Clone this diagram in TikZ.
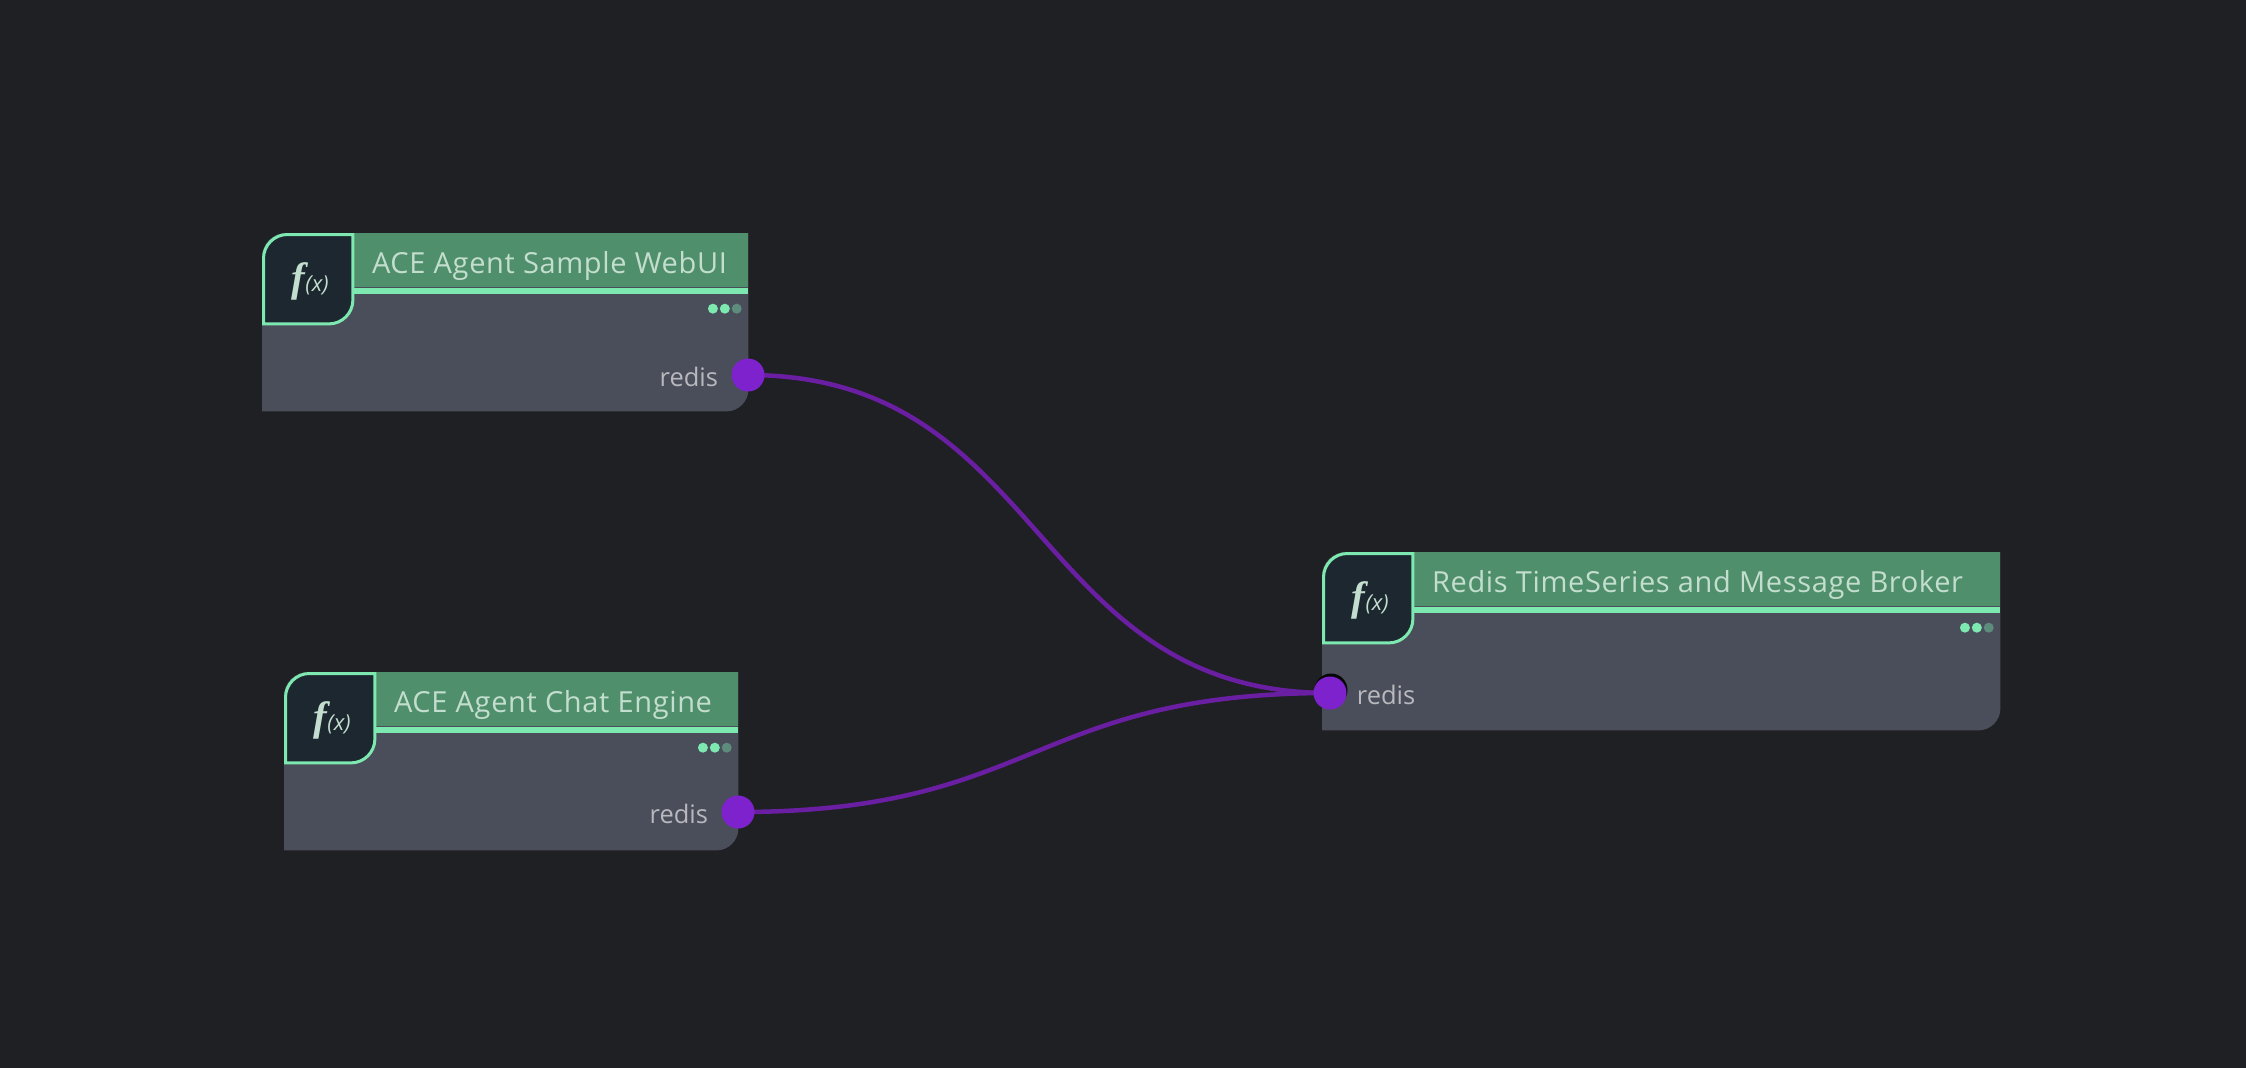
\documentclass[tikz,border=0pt]{standalone}
\usepackage{fontspec}
\setmainfont{Open Sans}
\newfontfamily\titlefont{Open Sans}[LetterSpace=2.2]
\newfontfamily\fxfont{Liberation Serif}
\usetikzlibrary{positioning}

\definecolor{canvas}{HTML}{1F2023}
\definecolor{cardgray}{HTML}{4A4E5A}
\definecolor{bandgreen}{HTML}{4F8F6B}
\definecolor{accent}{HTML}{7DE8B0}
\definecolor{icondark}{HTML}{1C2730}
\definecolor{titletext}{HTML}{C3DECE}
\definecolor{porttext}{HTML}{B8B8BE}
\definecolor{wire}{HTML}{6A1FA3}
\definecolor{portfill}{HTML}{7E22CE}

\tikzset{
  card/.style={anchor=north west,inner sep=0,minimum height=178pt},
  band/.style={anchor=north east,inner sep=0,fill=bandgreen,minimum height=54pt},
  bar/.style={inner sep=0,fill=accent,minimum height=6pt},
  iconbox/.style={anchor=north west,inner sep=0,minimum size=89pt},
  fxlabel/.style={text=titletext},
  title/.style={anchor=base west,inner sep=0,text=titletext,font=\titlefont\fontsize{29}{33}\selectfont},
  portlabel/.style={inner sep=0,text=porttext,font=\fontsize{25.5}{30}\selectfont},
  port/.style={circle,inner sep=0,fill=portfill,minimum size=33pt},
  dot/.style={circle,inner sep=0,fill=accent,minimum size=10pt},
  dimdot/.style={dot,fill=accent!40!cardgray},
  link/.style={wire,line width=4.5pt}
}

\begin{document}
\begin{tikzpicture}[x=1pt,y=-1pt]
  \fill[canvas] (0,0) rectangle (2246,1068);

  \foreach \n/\x/\y/\w/\lbl in {webui/262/233/486/ACE Agent Sample WebUI,
                                engine/284/672/454/ACE Agent Chat Engine,
                                broker/1322/552/678/Redis TimeSeries and Message Broker} {
    \node[card,minimum width=\w pt] (\n) at (\x,\y) {};
    \fill[cardgray] (\n.south west) [rounded corners=24pt] -- (\n.north west)
      [sharp corners] -- (\n.north east) [rounded corners=22pt] -- (\n.south east)
      [sharp corners] -- (\n.south west) -- cycle;
    \node[band,minimum width=\w pt-92pt] (\n band) at (\n.north east) {};
    \node[bar,below=0pt of \n band,minimum width=\w pt-92pt] (\n bar) {};
    \node[iconbox] (\n icon) at ([shift={(1.5pt,-1.5pt)}]\n.north west) {};
    \filldraw[fill=icondark,draw=accent,line width=3pt]
      (\n icon.south west) [rounded corners=24pt] -- (\n icon.north west)
      [sharp corners] -- (\n icon.north east) [rounded corners=24pt] -- (\n icon.south east)
      [sharp corners] -- (\n icon.south west) -- cycle;
    \node[fxlabel,xshift=2pt,yshift=-2pt] (\n fx) at (\n icon.center)
      {{\fxfont\bfseries\itshape\fontsize{41}{41}\selectfont f}{\itshape\fontsize{22}{22}\selectfont (x)}};
    \node[title,right=19pt of \n icon.north east,yshift=-38.5pt,anchor=base west] (\n title) {\lbl};
    \node[dimdot,below left=72pt and 8pt of \n.north east] (\n dotc) {};
    \node[dot,left=1.5pt of \n dotc] (\n dotb) {};
    \node[dot,left=1.5pt of \n dotb] (\n dota) {};
  }

  \coordinate (webuiout) at (748,375);
  \coordinate (engineout) at (738,812);
  \coordinate (brokerin) at (1330,693);

  \draw[link] (webuiout) .. controls +(300,0) and +(-300,0) .. (brokerin);
  \draw[link] (engineout) .. controls +(300,0) and +(-300,0) .. (brokerin);

  \node[port] (webuiport) at (webuiout) {};
  \node[port] (engineport) at (engineout) {};
  \node[port,fill=black!80!canvas] (brokershade) at (1331,690) {};
  \node[port] (brokerport) at (brokerin) {};

  \node[portlabel,left=13pt of webuiport,yshift=-2pt] (webuiredis) {redis};
  \node[portlabel,left=13pt of engineport,yshift=-2pt] (engineredis) {redis};
  \node[portlabel,right=10pt of brokerport,yshift=-2pt] (brokerredis) {redis};
\end{tikzpicture}
\end{document}
